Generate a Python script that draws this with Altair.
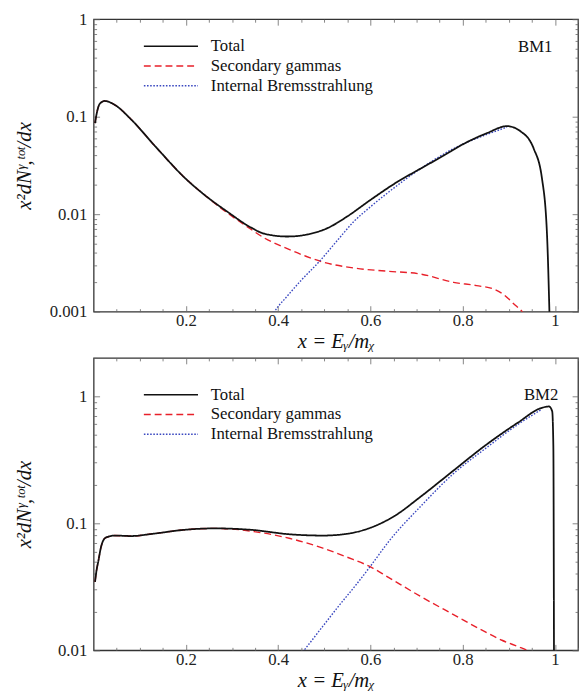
import altair as alt
import pandas as pd

SERIES = ["Total", "Secondary gammas", "Internal Bremsstrahlung"]
COLORS = ["#111111", "#e8202a", "#3a48c0"]
DASHES = [[1, 0], [7, 4], [1.6, 1.6]]

FONT = "Liberation Serif"
TICK = "#666666"
XTITLE = "x = Eᵧ/mᵪ"
YTITLE = "x²dNᵞ,ᵗᵒᵗ/dx"

X_MAJOR = [0.2, 0.4, 0.6, 0.8, 1.0]
X_MINOR = [0.05, 0.1, 0.15, 0.25, 0.3, 0.35, 0.45, 0.5, 0.55, 0.65, 0.7,
           0.75, 0.85, 0.9, 0.95, 1.05]

# ---------------- BM1 ----------------
bm1_total_x = [0.003, 0.007, 0.013, 0.024, 0.046, 0.081, 0.133, 0.2, 0.24, 0.291,
               0.341, 0.37, 0.42, 0.464, 0.507, 0.55, 0.6, 0.658, 0.709, 0.759,
               0.8, 0.853, 0.896, 0.925, 0.954, 0.972, 0.983, 0.9885]
bm1_total_y = [0.086, 0.11, 0.135, 0.145, 0.132, 0.094, 0.050, 0.023, 0.0158, 0.0105,
               0.0073, 0.0063, 0.0059, 0.0062, 0.0072, 0.0095, 0.0140, 0.0214, 0.0294, 0.040,
               0.052, 0.068, 0.080, 0.071, 0.047, 0.023, 0.0058, 0.0008]
bm1_sec_x = [0.003, 0.007, 0.013, 0.024, 0.046, 0.081, 0.133, 0.2, 0.24, 0.291,
             0.33, 0.37, 0.421, 0.46, 0.5, 0.565, 0.637, 0.709, 0.78, 0.83,
             0.868, 0.89, 0.911, 0.929, 0.945]
bm1_sec_y = [0.086, 0.11, 0.135, 0.145, 0.132, 0.094, 0.050, 0.023, 0.0158, 0.0102,
             0.0076, 0.0057, 0.0044, 0.0037, 0.0032, 0.0028, 0.0026, 0.00243, 0.0020, 0.00185,
             0.0017, 0.00148, 0.0012, 0.0010, 0.0008]
bm1_ib_x = [0.38, 0.392, 0.42, 0.45, 0.49, 0.53, 0.565, 0.6, 0.637, 0.709, 0.78, 0.853, 0.896]
bm1_ib_y = [0.0008, 0.001, 0.00145, 0.0021, 0.0033, 0.0055, 0.0085, 0.0119, 0.0165, 0.0294,
            0.047, 0.066, 0.078]
bm1_y_major = [0.001, 0.01, 0.1, 1]
bm1_y_minor = [0.002, 0.003, 0.004, 0.005, 0.006, 0.007, 0.008, 0.009,
               0.02, 0.03, 0.04, 0.05, 0.06, 0.07, 0.08, 0.09,
               0.2, 0.3, 0.4, 0.5, 0.6, 0.7, 0.8, 0.9]

# ---------------- BM2 ----------------
bm2_total_x = [0.003, 0.006, 0.010, 0.016, 0.024, 0.035, 0.045, 0.081, 0.13, 0.2,
               0.264, 0.342, 0.426, 0.497, 0.553, 0.603, 0.652, 0.709, 0.779, 0.85,
               0.92, 0.97, 0.987, 0.994, 0.9965, 0.998]
bm2_total_y = [0.0345, 0.042, 0.050, 0.065, 0.076, 0.079, 0.080, 0.0793, 0.0828, 0.089,
               0.0911, 0.0887, 0.0818, 0.080, 0.083, 0.093, 0.114, 0.162, 0.258, 0.412,
               0.62, 0.806, 0.83, 0.76, 0.40, 0.005]
bm2_sec_x = [0.003, 0.006, 0.010, 0.016, 0.024, 0.035, 0.045, 0.081, 0.13, 0.2,
             0.264, 0.3, 0.342, 0.39, 0.426, 0.497, 0.55, 0.603, 0.638, 0.709,
             0.779, 0.85, 0.885, 0.92, 0.94, 0.96]
bm2_sec_y = [0.0345, 0.042, 0.050, 0.065, 0.076, 0.079, 0.080, 0.0793, 0.0828, 0.089,
             0.0911, 0.090, 0.0865, 0.081, 0.0758, 0.0637, 0.054, 0.0448, 0.0377, 0.0265,
             0.0192, 0.0139, 0.012, 0.0107, 0.010, 0.0092]
bm2_ib_x = [0.44, 0.455, 0.497, 0.532, 0.568, 0.603, 0.638, 0.709, 0.779, 0.85, 0.92, 0.97]
bm2_ib_y = [0.0085, 0.0099, 0.0155, 0.0225, 0.0325, 0.0475, 0.0706, 0.136, 0.244, 0.389,
            0.60, 0.783]
bm2_y_major = [0.01, 0.1, 1]
bm2_y_minor = [0.02, 0.03, 0.04, 0.05, 0.06, 0.07, 0.08, 0.09,
               0.2, 0.3, 0.4, 0.5, 0.6, 0.7, 0.8, 0.9, 2]


def build_df(tx, ty, sx, sy, ix, iy):
    rows = []
    for s, xs, ys in [("Secondary gammas", sx, sy),
                      ("Internal Bremsstrahlung", ix, iy),
                      ("Total", tx, ty)]:
        for a, b in zip(xs, ys):
            rows.append({"series": s, "x": a, "y": b})
    return pd.DataFrame(rows)


def panel(name, df, ydom, ymaj, ymin, w, h, legx, legy, labx, laby, ytx, xty):
    xsc = alt.Scale(domain=[0, 1.05], nice=False, zero=False)
    ysc = alt.Scale(type="log", domain=ydom, nice=False)
    common = dict(grid=False, domain=False, tickColor=TICK, tickWidth=0.8)
    leg = alt.Legend(title=None, orient="none", legendX=legx, legendY=legy,
                     symbolType="stroke", symbolSize=3025, symbolStrokeWidth=1.5,
                     clipHeight=17, rowPadding=2, padding=0, labelOffset=12,
                     labelFont=FONT, labelFontSize=17, labelLimit=0,
                     labelColor="#111111")
    color = alt.Color("series:N", scale=alt.Scale(domain=SERIES, range=COLORS), legend=leg)
    dash = alt.StrokeDash("series:N", scale=alt.Scale(domain=SERIES, range=DASHES), legend=leg)

    xax = alt.Axis(orient="bottom", values=X_MAJOR, format="~g", title=XTITLE,
                   tickSize={"expr": "-6"}, labelPadding=7, titleY=xty,
                   titleBaseline="middle", **common)
    yax = alt.Axis(orient="left", values=ymaj, format="~g", title=YTITLE,
                   tickSize={"expr": "-6"}, labelPadding=13, titleX=ytx,
                   titleBaseline="middle", **common)

    others = alt.Chart(df).transform_filter(alt.datum.series != "Total").mark_line(
        clip=True, interpolate="monotone", strokeWidth=1.4).encode(
        x=alt.X("x:Q", scale=xsc, axis=xax),
        y=alt.Y("y:Q", scale=ysc, axis=yax),
        color=color, strokeDash=dash)
    total = alt.Chart(df).transform_filter(alt.datum.series == "Total").mark_line(
        clip=True, interpolate="monotone", strokeWidth=1.8).encode(
        x=alt.X("x:Q", scale=xsc, axis=None),
        y=alt.Y("y:Q", scale=ysc, axis=None),
        color=color, strokeDash=dash)

    def ghost(xa, ya):
        return alt.Chart(df).mark_line(opacity=0).encode(
            x=alt.X("x:Q", scale=xsc, axis=xa),
            y=alt.Y("y:Q", scale=ysc, axis=ya))

    minor_bl = ghost(
        alt.Axis(orient="bottom", values=X_MINOR, labels=False, title=None,
                 tickSize={"expr": "-3"}, **common),
        alt.Axis(orient="left", values=ymin, labels=False, title=None,
                 tickSize={"expr": "-3"}, **common))
    major_tr = ghost(
        alt.Axis(orient="top", values=X_MAJOR, labels=False, title=None,
                 tickSize={"expr": "-6"}, **common),
        alt.Axis(orient="right", values=ymaj, labels=False, title=None,
                 tickSize={"expr": "-6"}, **common))
    minor_tr = ghost(
        alt.Axis(orient="top", values=X_MINOR, labels=False, title=None,
                 tickSize={"expr": "-3"}, **common),
        alt.Axis(orient="right", values=ymin, labels=False, title=None,
                 tickSize={"expr": "-3"}, **common))

    lab = alt.Chart(pd.DataFrame({"label": [name]})).mark_text(
        align="right", baseline="middle", font=FONT, fontSize=17, color="#111111").encode(
        x=alt.value(labx), y=alt.value(laby), text="label:N")

    return alt.layer(others, total, minor_bl, major_tr, minor_tr, lab).resolve_axis(
        x="independent", y="independent").properties(width=w, height=h)


df1 = build_df(bm1_total_x, bm1_total_y, bm1_sec_x, bm1_sec_y, bm1_ib_x, bm1_ib_y)
df2 = build_df(bm2_total_x, bm2_total_y, bm2_sec_x, bm2_sec_y, bm2_ib_x, bm2_ib_y)

top = panel("BM1", df1, [0.001, 1], bm1_y_major, bm1_y_minor, 492, 297,
            50, 19, 466, 28, -70, 30)
bottom = panel("BM2", df2, [0.01, 2], bm2_y_major, bm2_y_minor, 492, 297,
               50, 29, 472, 38, -70, 31)

chart = alt.vconcat(top, bottom, spacing=4).resolve_scale(
    color="independent", strokeDash="independent").properties(
    padding={"left": 5, "top": -4, "right": 0, "bottom": 0}
).configure_view(stroke="#333333", strokeWidth=1.3).configure_axis(
    labelFont=FONT, labelFontSize=17, labelColor="#222222",
    titleFont=FONT, titleFontSize=21, titleFontStyle="italic",
    titleFontWeight="normal", titleColor="#111111")

chart.save("out.html", embed_options={"renderer": "svg", "actions": False})
